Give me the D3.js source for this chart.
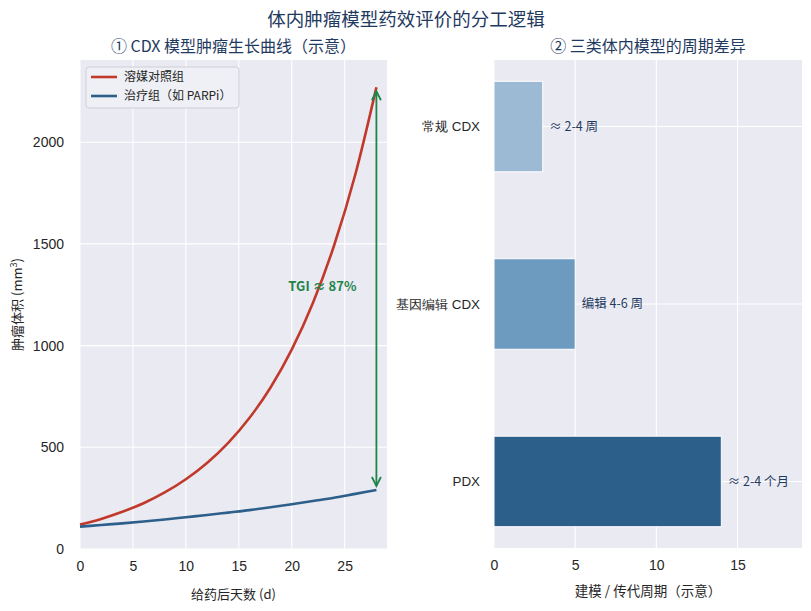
<!DOCTYPE html>
<html>
<head>
<meta charset="utf-8">
<script src="https://cdn.jsdelivr.net/npm/d3@7"></script>
<style>
  body { margin: 0; background: #fff; }
  svg { font-family: "Noto Sans CJK SC", "Noto Sans", sans-serif; }
  .tick text { fill: #262626; font-size: 14px; }
  .cat .tick text { font-size: 13.4px; }
  .grid line { stroke: #fff; stroke-width: 1.1; }
</style>
</head>
<body>
<svg id="chart" width="811" height="611"></svg>
<script>
// left panel: tumour growth
const days = [0, 2, 4, 6, 8, 10, 12, 14, 16, 18, 20, 22, 24, 26, 28];
const vehicleVol = [120, 148, 183, 225, 278, 343, 423, 522, 644, 794, 980, 1209, 1492, 1840, 2270];
const treatedVol = [110, 118, 126, 135, 145, 156, 167, 179, 191, 205, 220, 236, 252, 271, 290];
const seriesNames = ["溶媒对照组", "治疗组（如 PARPi）"];
const leftXTicks = [0, 5, 10, 15, 20, 25];
const leftYTicks = [0, 500, 1000, 1500, 2000];

// right panel: model cycle length
const models = ["PDX", "基因编辑 CDX", "常规 CDX"];
const cycleValues = [14, 5, 3];
const cycleLabels = ["≈ 2-4 个月", "编辑 4-6 周", "≈ 2-4 周"];
const rightXTicks = [0, 5, 10, 15];

const colors = { vehicle: "#c0392b", treated: "#2c5f8a", arrow: "#1e8449", navy: "#1f3a5f" };
const barColors = ["#2c5f8a", "#6d9abf", "#9dbad4"];

var svg = d3.select("#chart");

svg.append("text")
  .attr("x", 406).attr("y", 26)
  .attr("text-anchor", "middle")
  .style("font-size", "18.5px")
  .style("fill", colors.navy)
  .text("体内肿瘤模型药效评价的分工逻辑");

/**
 * Draws the grey panel background with white grid lines.
 */
function drawPanel(g, x, y, xTicks, yTicks, w, h) {
  g.append("rect").attr("width", w).attr("height", h).attr("fill", "#eaeaf2");
  var grid = g.append("g").attr("class", "grid");
  grid.selectAll(".vx").data(xTicks).enter().append("line")
    .attr("x1", d => x(d)).attr("x2", d => x(d))
    .attr("y1", 0).attr("y2", h);
  grid.selectAll(".hy").data(yTicks).enter().append("line")
    .attr("x1", 0).attr("x2", w)
    .attr("y1", d => y(d)).attr("y2", d => y(d));
}

function styleAxis(a) {
  a.select(".domain").remove();
  a.selectAll(".tick line").remove();
}

// ---------- left panel ----------
var L = { left: 80, top: 60, w: 307, h: 489 };
var gl = svg.append("g").attr("transform", "translate(" + L.left + "," + L.top + ")");

var xL = d3.scaleLinear().domain([0, 29]).range([0, L.w]);
var yL = d3.scaleLinear().domain([0, 2404]).range([L.h, 0]);

drawPanel(gl, xL, yL, leftXTicks, leftYTicks, L.w, L.h);

gl.append("g")
  .attr("transform", "translate(0," + L.h + ")")
  .call(d3.axisBottom(xL).tickValues(leftXTicks).tickSize(0).tickPadding(12))
  .call(styleAxis);

gl.append("g")
  .call(d3.axisLeft(yL).tickValues(leftYTicks).tickFormat(d3.format("d")).tickSize(0).tickPadding(16))
  .call(styleAxis);

var line = d3.line().curve(d3.curveMonotoneX);

gl.append("path")
  .attr("d", line(days.map((d, i) => [xL(d), yL(vehicleVol[i])])))
  .attr("fill", "none").attr("stroke", colors.vehicle).attr("stroke-width", 2.6);

gl.append("path")
  .attr("d", line(days.map((d, i) => [xL(d), yL(treatedVol[i])])))
  .attr("fill", "none").attr("stroke", colors.treated).attr("stroke-width", 2.6);

// double-headed TGI arrow
var lastDay = days[days.length - 1];
var ax = xL(lastDay);
var yTop = yL(vehicleVol[vehicleVol.length - 1]) + 4;
var yBot = yL(treatedVol[treatedVol.length - 1]) - 4;
gl.append("line")
  .attr("x1", ax).attr("x2", ax).attr("y1", yTop).attr("y2", yBot)
  .attr("stroke", colors.arrow).attr("stroke-width", 1.8);
gl.append("path")
  .attr("d", "M" + (ax - 4.5) + "," + (yTop + 9) + "L" + ax + "," + yTop + "L" + (ax + 4.5) + "," + (yTop + 9))
  .attr("fill", "none").attr("stroke", colors.arrow).attr("stroke-width", 1.8);
gl.append("path")
  .attr("d", "M" + (ax - 4.5) + "," + (yBot - 9) + "L" + ax + "," + yBot + "L" + (ax + 4.5) + "," + (yBot - 9))
  .attr("fill", "none").attr("stroke", colors.arrow).attr("stroke-width", 1.8);

gl.append("text")
  .attr("x", xL(22.9)).attr("y", yL(1290))
  .attr("text-anchor", "middle").attr("dy", "0.35em")
  .style("font-size", "13px").style("font-weight", "bold")
  .style("fill", colors.arrow)
  .text("TGI ≈ 87%");

// legend
var leg = gl.append("g").attr("transform", "translate(6,7)");
leg.append("rect")
  .attr("width", 153).attr("height", 41).attr("rx", 3)
  .attr("fill", "#eef0f5").attr("stroke", "#cfcfd6");
[colors.vehicle, colors.treated].forEach(function(c, i) {
  var yy = 10 + i * 19;
  leg.append("line")
    .attr("x1", 5).attr("x2", 31).attr("y1", yy).attr("y2", yy)
    .attr("stroke", c).attr("stroke-width", 2.6);
  leg.append("text")
    .attr("x", 38).attr("y", yy).attr("dy", "0.35em")
    .style("font-size", "12px").style("fill", "#262626")
    .text(seriesNames[i]);
});

gl.append("text")
  .attr("x", L.w / 2).attr("y", -8)
  .attr("text-anchor", "middle")
  .style("font-size", "16px").style("fill", colors.navy)
  .text("① CDX 模型肿瘤生长曲线（示意）");

gl.append("text")
  .attr("x", L.w / 2).attr("y", L.h + 50)
  .attr("text-anchor", "middle")
  .style("font-size", "13px").style("fill", "#262626")
  .text("给药后天数 (d)");

gl.append("text")
  .attr("transform", "translate(-58," + (L.h / 2) + ") rotate(-90)")
  .attr("text-anchor", "middle")
  .style("font-size", "13px").style("fill", "#262626")
  .html("肿瘤体积 (mm<tspan dy='-5' font-size='9px'>3</tspan><tspan dy='5'>)</tspan>");

// ---------- right panel ----------
var R = { left: 494, top: 60, w: 308, h: 488 };
var gr = svg.append("g").attr("transform", "translate(" + R.left + "," + R.top + ")");

var xR = d3.scaleLinear().domain([0, 18.97]).range([0, R.w]);
var yR = d3.scaleLinear().domain([-0.375, 2.375]).range([R.h, 0]);
var barH = 0.51;

drawPanel(gr, xR, yR, rightXTicks, d3.range(models.length), R.w, R.h);

gr.append("g")
  .attr("transform", "translate(0," + R.h + ")")
  .call(d3.axisBottom(xR).tickValues(rightXTicks).tickSize(0).tickPadding(12))
  .call(styleAxis);

gr.append("g")
  .attr("class", "cat")
  .call(d3.axisLeft(yR).tickValues(d3.range(models.length))
    .tickFormat(i => models[i]).tickSize(0).tickPadding(14))
  .call(styleAxis);

gr.selectAll(".bar")
  .data(cycleValues)
  .enter().append("rect")
  .attr("class", "bar")
  .attr("x", xR(0))
  .attr("y", (d, i) => yR(i + barH / 2))
  .attr("width", d => xR(d) - xR(0))
  .attr("height", yR(0) - yR(barH))
  .attr("fill", (d, i) => barColors[i])
  .attr("stroke", "#fff").attr("stroke-width", 1);

gr.selectAll(".bar-label")
  .data(cycleValues)
  .enter().append("text")
  .attr("class", "bar-label")
  .attr("x", d => xR(d + 0.4))
  .attr("y", (d, i) => yR(i))
  .attr("dy", "0.35em")
  .style("font-size", "12.5px").style("fill", colors.navy)
  .text((d, i) => cycleLabels[i]);

gr.append("text")
  .attr("x", R.w / 2).attr("y", -8)
  .attr("text-anchor", "middle")
  .style("font-size", "16px").style("fill", colors.navy)
  .text("② 三类体内模型的周期差异");

gr.append("text")
  .attr("x", R.w / 2).attr("y", R.h + 48)
  .attr("text-anchor", "middle")
  .style("font-size", "13.5px").style("fill", "#262626")
  .text("建模 / 传代周期（示意）");
</script>
</body>
</html>
